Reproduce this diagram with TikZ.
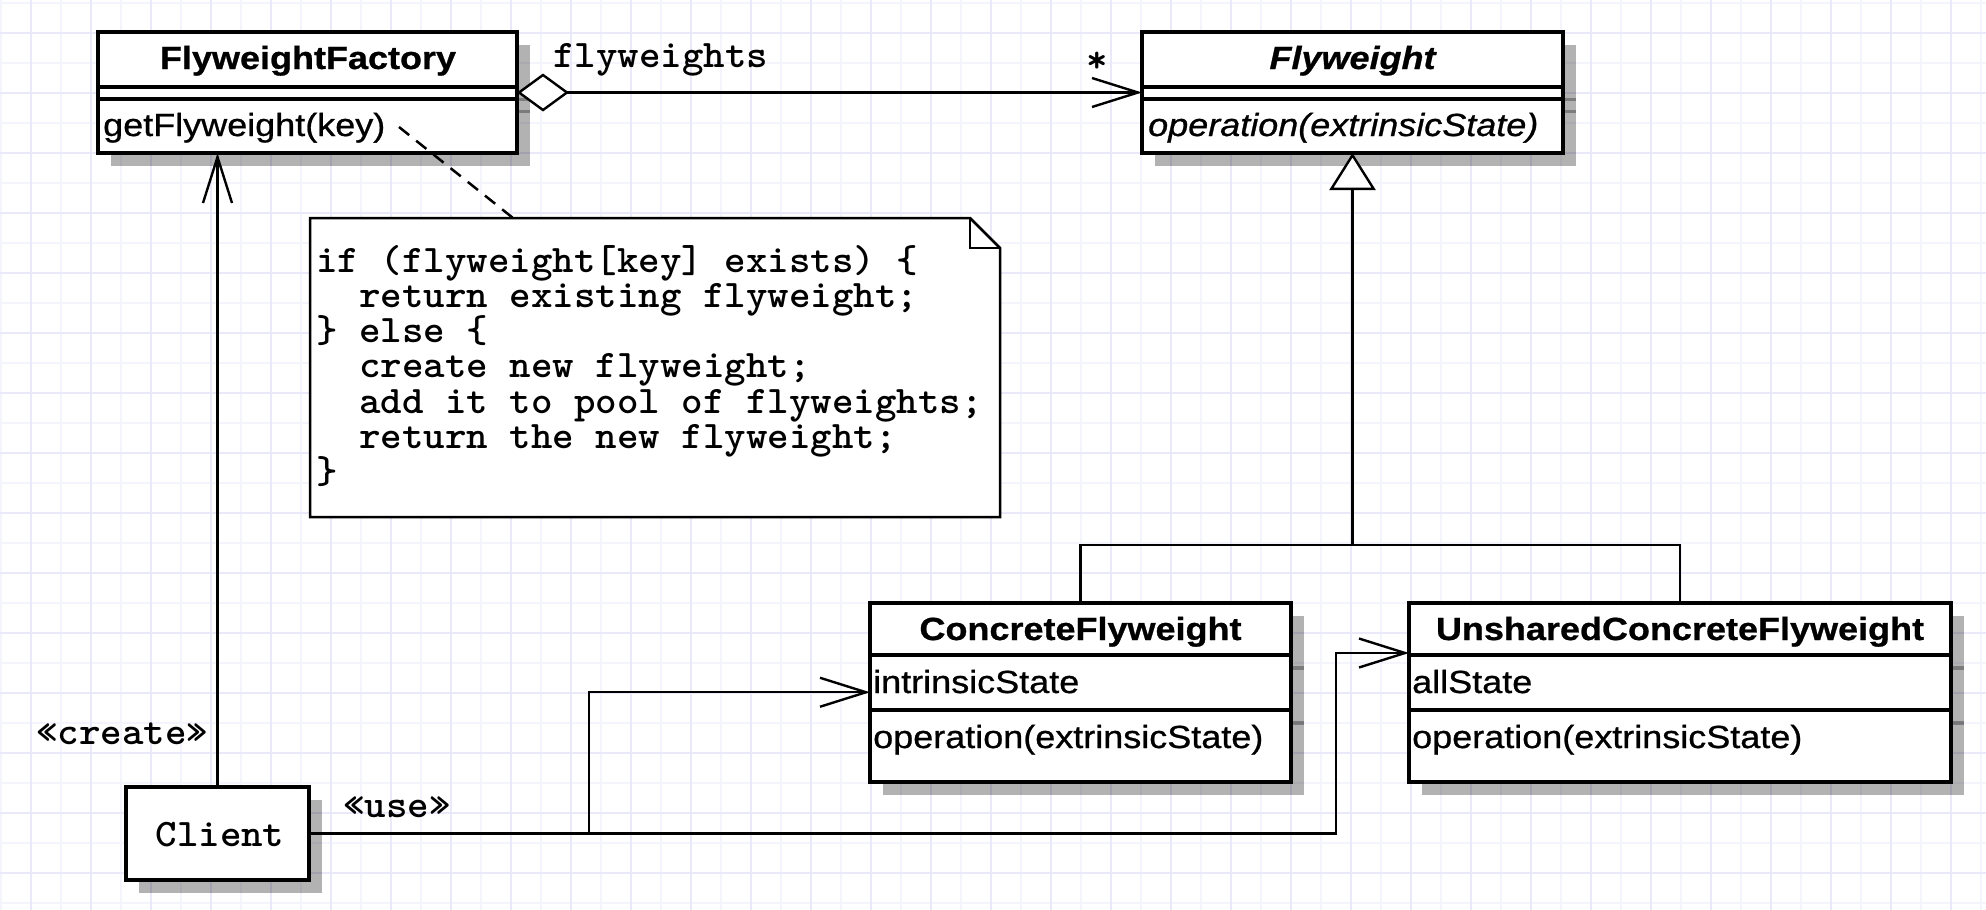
\documentclass[tikz,border=0pt]{standalone}
\usepackage{fontspec}
\usetikzlibrary{arrows.meta,shadows}
\newfontfamily\umlsans[FakeStretch=1.125,FakeBold=0.8]{Liberation Sans}
\newfontfamily\umlmono[FakeStretch=1.05]{lmmonolt10-bold.otf}
\definecolor{gridA}{RGB}{233,233,250}
\definecolor{gridB}{RGB}{244,244,253}
\begin{document}
\begin{tikzpicture}[x=1pt,y=-1pt,
  gridmajor/.style={draw=gridA, line width=1.8},
  gridminor/.style={draw=gridB, line width=1.8},
  classbox/.style={draw, line width=4, fill=white, inner sep=0, outer sep=0, anchor=north west,
     drop shadow={shadow xshift=13pt, shadow yshift=-13pt, fill=black, opacity=0.3}},
  cline/.style={line width=4},
  shadowline/.style={line width=3.5, draw=black, opacity=0.3},
  ctitle/.style={font=\umlsans\fontsize{32}{34}\selectfont\bfseries, inner sep=0, anchor=base},
  cmember/.style={font=\umlsans\fontsize{32}{34}\selectfont, inner sep=0, anchor=base west},
  monotext/.style={font=\umlmono\fontsize{39}{35.3}\selectfont, inner sep=0},
  notebox/.style={draw, line width=2.5, fill=white, line join=miter},
  notelink/.style={line width=2.5, dash pattern=on 13pt off 9pt},
  conn/.style={line width=2.4},
  openarrow/.style={-{Straight Barb[length=46pt,width=29pt]}},
]
\useasboundingbox (0,0) rectangle (1986,910);
\fill[white] (0,0) rectangle (1986,910);
% grid
\foreach \k in {0,...,33} { \draw[gridminor] (1+60*\k,0) -- (1+60*\k,910); }
\foreach \k in {0,...,15} { \draw[gridminor] (0,2.7+60*\k) -- (1986,2.7+60*\k); }
\foreach \k in {0,...,32} { \draw[gridmajor] (31+60*\k,0) -- (31+60*\k,910); }
\foreach \k in {0,...,14} { \draw[gridmajor] (0,32.7+60*\k) -- (1986,32.7+60*\k); }

% ---- FlyweightFactory
\node[classbox, minimum width=419, minimum height=121] (ff) at (98,32) {};
\draw[cline] (98,86.5) -- (517,86.5);
\draw[cline] (98,98.5) -- (517,98.5);
\draw[shadowline] (519,99.5) -- (530,99.5);
\draw[shadowline] (519,111.5) -- (530,111.5);
\node[ctitle] (fftitle) at (308,69) {FlyweightFactory};
\node[cmember] (ffop) at (103,136) {getFlyweight(key)};

% ---- Flyweight
\node[classbox, minimum width=421, minimum height=121] (fw) at (1142,32) {};
\draw[cline] (1142,86.5) -- (1563,86.5);
\draw[cline] (1142,98.5) -- (1563,98.5);
\draw[shadowline] (1565,99.5) -- (1576,99.5);
\draw[shadowline] (1565,111.5) -- (1576,111.5);
\node[ctitle, font=\umlsans\fontsize{32}{34}\selectfont\bfseries\itshape] (fwtitle) at (1352.5,69) {Flyweight};
\node[cmember, font=\umlsans\fontsize{32}{34}\selectfont\itshape] (fwop) at (1148,136) {operation(extrinsicState)};

% ---- ConcreteFlyweight
\node[classbox, minimum width=421, minimum height=178.5] (cf) at (870,603) {};
\draw[cline] (870,655) -- (1291,655);
\draw[cline] (870,710) -- (1291,710);
\draw[shadowline] (1293,668) -- (1304,668);
\draw[shadowline] (1293,723) -- (1304,723);
\node[ctitle] (cftitle) at (1080.5,640) {ConcreteFlyweight};
\node[cmember] (cfattr) at (873,693) {intrinsicState};
\node[cmember] (cfop) at (873,748) {operation(extrinsicState)};

% ---- UnsharedConcreteFlyweight
\node[classbox, minimum width=542, minimum height=178.5] (ucf) at (1409,603) {};
\draw[cline] (1409,655) -- (1951,655);
\draw[cline] (1409,710) -- (1951,710);
\draw[shadowline] (1953,668) -- (1964,668);
\draw[shadowline] (1953,723) -- (1964,723);
\node[ctitle] (ucftitle) at (1680,640) {UnsharedConcreteFlyweight};
\node[cmember] (ucfattr) at (1412,693) {allState};
\node[cmember] (ucfop) at (1412,748) {operation(extrinsicState)};

% ---- Client
\node[classbox, minimum width=183, minimum height=93] (client) at (126,787) {};
\node[monotext, anchor=base] (clienttxt) at (220,846) {Client};

% ---- Note
\draw[notebox] (310,218) -- (970,218) -- (1000,248) -- (1000,517) -- (310,517) -- cycle;
\draw[notebox, fill=none] (970,218) -- (970,248) -- (1000,248);
\node[monotext, anchor=base west] (notetext) at (316,272) {\vtop{\baselineskip=35.3pt\lineskiplimit=-1000pt\lineskip=0pt
  \hbox{if (flyweight[key] exists) \{}
  \hbox{\ \ return existing flyweight;}
  \hbox{\} else \{}
  \hbox{\ \ create new flyweight;}
  \hbox{\ \ add it to pool of flyweights;}
  \hbox{\ \ return the new flyweight;}
  \hbox{\}}}};
\coordinate (linkA) at (399,127);
\coordinate (linkB) at (513,218);
\draw[notelink] (linkA) -- (linkB);

% ---- aggregation
\draw[conn, {Diamond[fill=white,length=52pt,width=38pt]}-{Straight Barb[length=46pt,width=29pt]}] (ff) -- (fw);
\node[monotext, anchor=base west] (aggname) at (553,67) {flyweights};
\node[monotext, anchor=base] (aggmult) at (1097,72) {*};

% ---- generalization
\coordinate (genjoin) at (1352.5,545);
\draw[conn] (cf.north) |- (genjoin) -| (ucf.north);
\draw[conn, -{Triangle[fill=white,length=37pt,width=46pt]}] (genjoin) -- (fw.south);

% ---- create
\draw[conn, openarrow] (client.north) -- (client.north |- ff.south);
\node[monotext, anchor=base west] (createlbl) at (36,744) {«create»};

% ---- use
\draw[conn, openarrow] (client.east) -- ++(280,0) |- (cf.west);
\coordinate (ucfin) at (1409,653);
\draw[conn, openarrow] (client.east) -- ++(1027,0) |- (ucfin);
\node[monotext, anchor=base west] (uselbl) at (343,817) {«use»};
\end{tikzpicture}
\end{document}
